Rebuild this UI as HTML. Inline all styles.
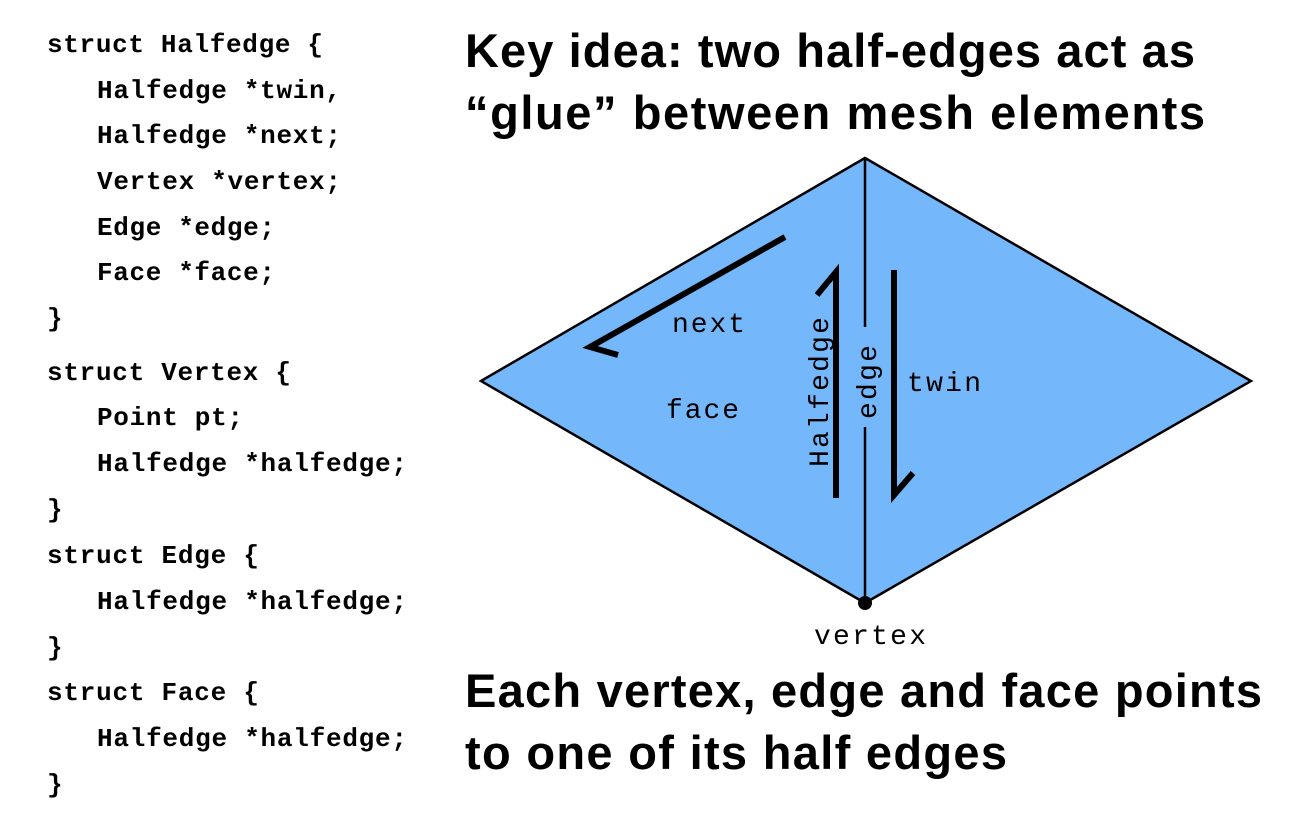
<!DOCTYPE html>
<html><head><meta charset="utf-8"><style>
html,body{margin:0;padding:0;background:#fff;width:1313px;height:824px;overflow:hidden}
</style></head><body>
<svg width="1313" height="824" viewBox="0 0 1313 824" xmlns="http://www.w3.org/2000/svg">
<g font-family="'Liberation Mono', monospace" font-weight="bold" font-size="26" fill="#000">
<text x="47" y="52" textLength="276">struct Halfedge {</text>
<text x="97" y="98" textLength="244">Halfedge *twin,</text>
<text x="97" y="143" textLength="244">Halfedge *next;</text>
<text x="97" y="189" textLength="244">Vertex *vertex;</text>
<text x="97" y="235" textLength="178">Edge *edge;</text>
<text x="97" y="280" textLength="178">Face *face;</text>
<text x="47" y="326">}</text>
<text x="47" y="380" textLength="244">struct Vertex {</text>
<text x="97" y="425" textLength="146">Point pt;</text>
<text x="97" y="471" textLength="310">Halfedge *halfedge;</text>
<text x="47" y="517">}</text>
<text x="47" y="563" textLength="212">struct Edge {</text>
<text x="97" y="609" textLength="310">Halfedge *halfedge;</text>
<text x="47" y="655">}</text>
<text x="47" y="700" textLength="212">struct Face {</text>
<text x="97" y="746" textLength="310">Halfedge *halfedge;</text>
<text x="47" y="792">}</text>
</g>
<g font-family="'Liberation Sans', sans-serif" font-weight="bold" font-size="47" fill="#000">
<text x="465" y="67" textLength="730">Key idea: two half-edges act as</text>
<text x="465" y="129" textLength="740">“glue” between mesh elements</text>
<text x="465" y="707" textLength="797">Each vertex, edge and face points</text>
<text x="465" y="769" textLength="542">to one of its half edges</text>
</g>
<polygon points="481,381 865,158 1251,381 865,603" fill="#74b7fa" stroke="#000" stroke-width="2.5"/>
<line x1="865" y1="158" x2="865" y2="327" stroke="#000" stroke-width="2.5"/>
<line x1="865" y1="427" x2="865" y2="603" stroke="#000" stroke-width="2.5"/>
<circle cx="865" cy="603" r="7" fill="#000"/>
<g stroke="#000" stroke-width="6" fill="none" stroke-linecap="butt">
<polyline points="785,237 590,347 618,355"/>
<polyline points="836,498 836,272 817,295"/>
<polyline points="894,270 894,495 913,473"/>
</g>
<g font-family="'Liberation Mono', monospace" font-size="28" fill="#000">
<text x="672" y="332" textLength="73">next</text>
<text x="666" y="418" textLength="73">face</text>
<text x="907" y="391" textLength="74">twin</text>
<text x="814" y="644" textLength="112">vertex</text>
<text transform="translate(828,392) rotate(-90)" text-anchor="middle" textLength="150">Halfedge</text>
<text transform="translate(876,382) rotate(-90)" text-anchor="middle" textLength="74">edge</text>
</g>
</svg>
</body></html>
